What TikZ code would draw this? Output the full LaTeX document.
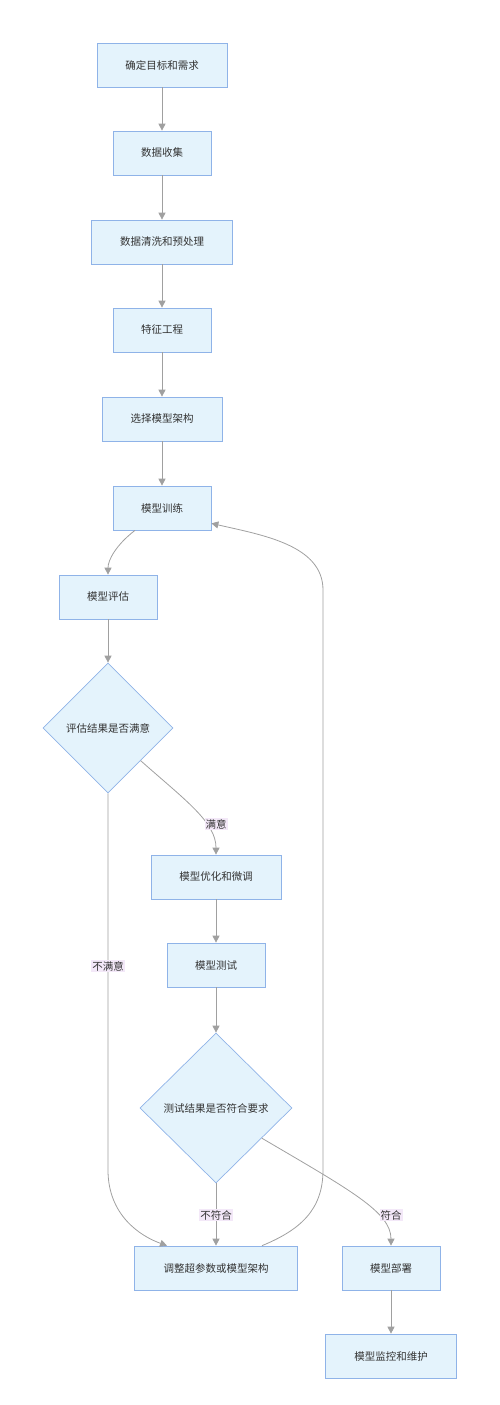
\documentclass[tikz,border=0pt]{standalone}
\usepackage{fontspec}
\setmainfont{Noto Sans CJK SC}
\usetikzlibrary{shapes.geometric,arrows.meta,calc}
\definecolor{boxfill}{HTML}{E4F3FC}
\definecolor{boxline}{HTML}{8FB3E8}
\definecolor{edgecol}{HTML}{A0A0A0}
\definecolor{txtcol}{HTML}{333333}
\definecolor{lblfill}{HTML}{F3E8F8}
\begin{document}
\begin{tikzpicture}[x=1pt,y=1pt,
  every node/.style={text=txtcol,font=\fontsize{10.5}{12}\selectfont},
  stepbox/.style={draw=boxline,fill=boxfill,line width=0.7pt,rectangle,minimum height=44pt,inner sep=0pt},
  decide/.style={draw=boxline,fill=boxfill,line width=0.7pt,diamond,inner sep=0pt},
  arr/.style={draw=edgecol,line width=0.8pt,-{Triangle[length=7pt,width=7pt]}},
  lbl/.style={fill=lblfill,inner sep=1pt}]
\useasboundingbox (0,0) rectangle (500,-1405);
\node[stepbox,minimum width=130pt] (n1) at (162,-65) {确定目标和需求};
\node[stepbox,minimum width=98pt] (n2) at (162,-153) {数据收集};
\node[stepbox,minimum width=141pt] (n3) at (162,-242) {数据清洗和预处理};
\node[stepbox,minimum width=98pt] (n4) at (162,-330) {特征工程};
\node[stepbox,minimum width=120pt] (n5) at (162,-419) {选择模型架构};
\node[stepbox,minimum width=98pt] (n6) at (162,-508) {模型训练};
\node[stepbox,minimum width=98pt] (n7) at (108,-597) {模型评估};
\node[decide,minimum width=130pt,minimum height=130pt] (d1) at (108,-728) {评估结果是否满意};
\node[stepbox,minimum width=130pt] (n9) at (216,-877) {模型优化和微调};
\node[stepbox,minimum width=98pt] (n10) at (216,-965) {模型测试};
\node[decide,minimum width=152pt,minimum height=150pt] (d2) at (216,-1108) {测试结果是否符合要求};
\node[stepbox,minimum width=163pt] (n12) at (216,-1268) {调整超参数或模型架构};
\node[stepbox,minimum width=98pt] (n13) at (391,-1268) {模型部署};
\node[stepbox,minimum width=131pt] (n14) at (391,-1356) {模型监控和维护};

\draw[arr] (n1) -- (n2);
\draw[arr] (n2) -- (n3);
\draw[arr] (n3) -- (n4);
\draw[arr] (n4) -- (n5);
\draw[arr] (n5) -- (n6);
\draw[arr] ($(n6.south)+(-27,0)$) .. controls (116,-545) and (108,-560) .. (n7.north);
\draw[arr] (n7) -- (d1);
\draw[arr] ($(d1.east)!0.5!(d1.south)$) .. controls (185,-800) and (216,-822) .. (n9.north);
\node[lbl] (l1) at (216,-824) {满意};
\draw[arr] (d1.south) -- (108,-1170) .. controls (108,-1215) and (140,-1236) .. ($(n12.north)+(-49,0)$);
\node[lbl] (l2) at (108,-966) {不满意};
\draw[arr] (n9) -- (n10);
\draw[arr] (n10) -- (d2);
\draw[arr] (d2.south) -- (n12.north);
\node[lbl] (l3) at (216,-1215) {不符合};
\draw[arr] ($(d2.east)!0.4!(d2.south)$) .. controls (350,-1190) and (391,-1212) .. (n13.north);
\node[lbl] (l4) at (391,-1215) {符合};
\draw[arr] (n13) -- (n14);
\draw[arr] ($(n12.north)+(46,0)$) .. controls (300,-1230) and (323,-1210) .. (323,-1170) -- (323,-590) .. controls (323,-545) and (262,-535) .. ($(n6.south east)+(0,7)$);
\end{tikzpicture}
\end{document}
